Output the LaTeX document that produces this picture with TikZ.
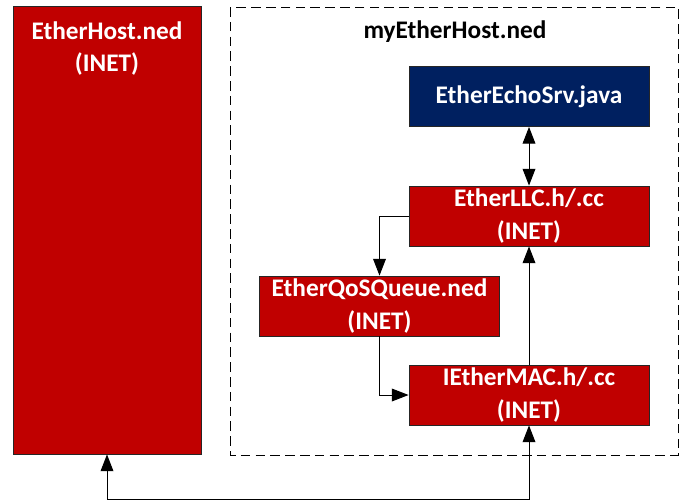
\documentclass[tikz,border=0pt]{standalone}
\usepackage{fontspec}
\setmainfont{Carlito}
\usetikzlibrary{arrows.meta}

\definecolor{inetred}{HTML}{C00000}
\definecolor{javablue}{HTML}{002060}

\tikzset{
  boxfont/.style={font=\bfseries\fontsize{18}{23}\selectfont},
  inetbox/.style={boxfont, draw=black!85, line width=0.6pt, fill=inetred, text=white,
    align=center, minimum width=6cm, minimum height=1.5cm, inner sep=0pt},
  javabox/.style={inetbox, fill=javablue},
  link/.style={line width=0.7pt, -{Triangle[length=0.42cm,width=0.32cm]}},
  duplex/.style={line width=0.7pt, {Triangle[length=0.42cm,width=0.32cm]}-{Triangle[length=0.42cm,width=0.32cm]}},
}

\begin{document}
\begin{tikzpicture}
        \useasboundingbox (0,0) rectangle (17.3,-12.55);

        % INET host on the left
        \node [inetbox, minimum width=4.7cm, minimum height=11.2cm] (host) at (2.675,-5.75) {};
        \node [boxfont, text=white, align=center, inner sep=0pt, anchor=north] (hostname) at ([yshift=-0.4cm]host.north) {EtherHost.ned\\(INET)};

        % own host
        \draw [line width=0.7pt, dash pattern=on 0.24cm off 0.13cm] (5.75,-0.175) rectangle (16.95,-11.375);
        \node [boxfont, inner sep=0pt] (title) at (11.375,-0.8) {myEtherHost.ned};

        \node [javabox] (echo) at (13.225,-2.4125) {EtherEchoSrv.java};
        \node [inetbox] (llc) at (13.225,-5.4) {EtherLLC.h/.cc\\(INET)};
        \node [inetbox] (qos) at (9.4875,-7.65) {EtherQoSQueue.ned\\(INET)};
        \node [inetbox] (mac) at (13.225,-9.875) {IEtherMAC.h/.cc\\(INET)};

        \draw [duplex] (echo.south) -- (llc.north);
        \draw [link] (llc.west) -| (qos.north);
        \draw [link] (qos.south) |- (mac.west);
        \draw [link] (mac.north) -- (llc.south);
        \draw [duplex] (host.south) |- ([yshift=-1.85cm]mac.south) -- (mac.south);

    \end{tikzpicture}
\end{document}
